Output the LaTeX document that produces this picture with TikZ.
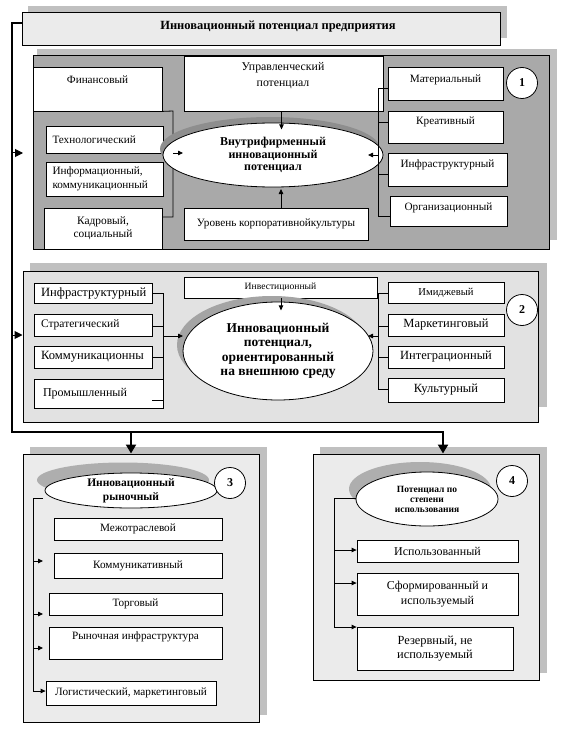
\documentclass[tikz,border=0pt]{standalone}
\usepackage{fontspec}
\setmainfont{Liberation Serif}
\usetikzlibrary{arrows.meta,shapes.geometric}
\definecolor{shd}{HTML}{C0C0C0}
\definecolor{lgt}{HTML}{EBEBEB}
\definecolor{lgtb}{HTML}{E2E2E2}
\definecolor{drk}{HTML}{A9A9A9}
\definecolor{eshdA}{HTML}{8E8E8E}
\definecolor{eshdB}{HTML}{A4A4A4}
\definecolor{eshdC}{HTML}{AEAEAE}
\newcommand\mybox[7][]{\node[box,minimum width={(#5)-(#3)},minimum height={(#6)-(#4)},#1] (#2) at ({((#3)+(#5))/2},{((#4)+(#6))/2}) {#7};}
\begin{document}
\begin{tikzpicture}[x=1pt,y=-1pt,
  ln/.style={line width=0.8pt},
  box/.style={draw,fill=white,line width=0.8pt,inner sep=0pt,align=center,font=\fontsize{11.2}{13.5}\selectfont},
  panel/.style={box,line width=1pt},
  txt/.style={inner sep=0pt,align=center,font=\fontsize{11.2}{13.5}\selectfont},
  big/.style={font=\fontsize{12.5}{14}\selectfont},
  four/.style={font=\fontsize{12}{14.5}\selectfont},
  arr/.style={line width=0.8pt,-{Triangle[length=5pt,width=4.5pt]}},
  bigarr/.style={line width=1pt,-{Triangle[length=8pt,width=8pt]}},
  thk/.style={line width=2.6pt},
  thkarr/.style={line width=2.6pt,-{Triangle[length=9pt,width=10pt]}},
  oval/.style={ellipse,draw,fill=white,line width=0.8pt,inner sep=0pt,align=center},
  num/.style={circle,draw,fill=white,line width=0.8pt,minimum size=31pt,inner sep=0pt,font=\bfseries\fontsize{12}{13}\selectfont}]
\useasboundingbox (0,0) rectangle (564,738);
\fill[white] (0,0) rectangle (564,738);
% ---------- top
\fill[shd] (28,6) rectangle (507,38);
\mybox[panel,fill=lgt]{top}{22}{13}{500}{46}{}
\node[txt,font=\bfseries\fontsize{12.5}{14}\selectfont] (topt) at (278,27) {Инновационный потенциал предприятия};
% ---------- section 1
\fill[shd] (37,49) rectangle (557,240);
\mybox[panel,fill=drk]{s1}{33}{56}{549}{249}{}
\mybox{fin}{33}{67}{162}{111}{}
\node[txt] (fint) at (97.5,80) {Финансовый};
\mybox{upr}{184}{56}{383}{111}{}
\node[txt,font=\fontsize{11.8}{16}\selectfont] (uprt) at (283,75.5) {Управленческий\\потенциал};
\draw[ln] (fin.south east) -- (173,111) -- (173,217) -- (162,217);
\mybox[align=left,text width=104pt]{tech}{46}{126}{163}{153}{Технологический}
\mybox[align=left,text width=104pt,font=\fontsize{11.2}{14}\selectfont]{info}{46}{162}{163}{196}{Информационный,\\коммуникационный}
\mybox[font=\fontsize{11.4}{13}\selectfont]{kad}{44}{208}{162}{249}{Кадровый,\\социальный}
\mybox{ur}{184}{208}{368}{240}{Уровень корпоративнойкультуры}
\fill[eshdA] (270,149) ellipse [x radius=110, y radius=32];
\node[oval,minimum width=220,minimum height=64,font=\bfseries\fontsize{12}{12.5}\selectfont] (e1) at (273,155) {Внутрифирменный\\инновационный\\потенциал};
\mybox{mat}{388}{67}{503}{100}{}
\node[txt] (matt) at (445.5,80) {Материальный};
\mybox{kre}{388}{111}{503}{143}{}
\node[txt] (kret) at (445.5,122) {Креативный};
\mybox{inf}{388}{153}{507}{186}{}
\node[txt] (inft) at (447.5,165) {Инфраструктурный};
\mybox{org}{390}{196}{507}{226}{}
\node[txt] (orgt) at (448.5,208) {Организационный};
\node[num] (n1) at (522,83) {1};
\coordinate (l1) at (173,153);
\coordinate (r1) at (378,155);
\draw[arr] (l1) -- ++(10,0);
\draw[arr] (r1) -- ++(-10,0);
\draw[arr] ([xshift=-2pt]upr.south) -- ++(0,18);
\draw[arr] (281,208) -- ++(0,-19);
\draw[ln] (mat.west |- 0,88) -- (378,88) -- (378,216) -- (org.west |- 0,216);
\draw[ln] (kre.west |- 0,122) -- (378,122);
\draw[ln] (inf.west |- 0,174) -- (378,174);
% ---------- section 2
\fill[shd] (30,263) rectangle (547,407);
\mybox[panel,fill=lgtb]{s2}{23}{271}{538}{422}{}
\mybox[font=\fontsize{9.6}{11}\selectfont]{inv}{184}{277}{377}{298}{Инвестиционный}
\mybox[align=left,text width=104pt,font=\fontsize{12.6}{14}\selectfont]{infl}{34}{283}{152}{303}{Инфраструктурный}
\mybox[align=left,text width=104pt,font=\fontsize{11.5}{14}\selectfont]{str}{34}{314}{152}{336}{Стратегический}
\mybox[align=left,text width=104pt,font=\fontsize{12.6}{14}\selectfont]{komm}{34}{346}{152}{368}{Коммуникационны}
\mybox[align=left,text width=111pt,font=\fontsize{12}{14}\selectfont]{prom}{34}{379}{163}{408}{Промышленный}
\fill[eshdB] (272,345) ellipse [x radius=95, y radius=49];
\node[oval,minimum width=190,minimum height=98,font=\bfseries\fontsize{13.5}{14.5}\selectfont] (e2) at (278,351) {Инновационный\\потенциал,\\ориентированный\\на внешнюю среду};
\mybox[font=\fontsize{10.6}{12}\selectfont]{img}{388}{282}{504}{303}{Имиджевый}
\mybox[big]{mark}{388}{314}{504}{336}{Маркетинговый}
\mybox[big]{integ}{388}{346}{504}{368}{Интеграционный}
\mybox[big]{kult}{388}{378}{504}{402}{Культурный}
\node[num] (n2) at (522,310) {2};
\draw[ln] (infl.east |- 0,293) -- (163,293) -- (163,400) -- (152,400);
\draw[ln] (str.east |- 0,326) -- (163,326);
\draw[ln] (komm.east |- 0,357) -- (163,357);
\draw[ln] (img.west |- 0,293) -- (378,293) -- (378,389) -- (kult.west |- 0,389);
\draw[ln] (mark.west |- 0,326) -- (378,326);
\draw[ln] (integ.west |- 0,357) -- (378,357);
\coordinate (l2) at (163,336);
\coordinate (r2) at (378,336);
\draw[arr] (l2) -- ++(20,0);
\draw[arr] (r2) -- ++(-10,0);
\draw[arr] ([xshift=0.5pt]inv.south) -- ++(0,12);
% ---------- section 3
\fill[shd] (30,447) rectangle (267,715);
\mybox[panel,fill=lgt]{s3}{23}{454}{259}{722}{}
\fill[eshdC] (123,480) ellipse [x radius=86, y radius=17.5];
\node[oval,minimum width=172,minimum height=35,font=\bfseries\fontsize{11.5}{14}\selectfont] (e3) at (131,490.5) {Инновационный\\рыночный};
\node[num] (n3) at (230,483) {3};
\mybox{mezh}{54}{518}{222}{540}{Межотраслевой}
\mybox{kmv}{54}{553}{222}{578}{Коммуникативный}
\mybox{torg}{49}{593}{222}{615}{Торговый}
\mybox{ryn}{49}{627}{222}{659}{}
\node[txt] (rynt) at (135.5,637) {Рыночная инфраструктура};
\mybox{log}{46}{681}{216}{705}{Логистический, маркетинговый}
\draw[ln] (43,498) -- (33,498) -- (33,691);
\draw[arr] (33,561) -- (43,561);
\draw[arr] (33,614) -- (43,614);
\draw[arr] (33,648) -- (43,648);
\draw[arr] (33,691) -- (log.west |- 0,691);
% ---------- section 4
\fill[shd] (320,447) rectangle (547,673);
\mybox[panel,fill=lgt]{s4}{313}{454}{539}{680}{}
\fill[eshdC] (420,489) ellipse [x radius=71, y radius=27];
\node[oval,minimum width=142,minimum height=54,font=\bfseries\fontsize{9.5}{10}\selectfont] (e4) at (427,499) {Потенциал по\\степени\\использования};
\node[num] (n4) at (512,481) {4};
\mybox[four]{isp}{357}{540}{518}{562}{Использованный}
\mybox[four]{sfo}{357}{573}{518}{615}{Сформированный и\\используемый}
\mybox[four,font=\fontsize{12.4}{14}\selectfont]{rez}{357}{627}{513}{670}{Резервный, не\\используемый}
\draw[ln] (356,498) -- (334,498) -- (334,627);
\draw[arr] (334,550) -- (isp.west |- 0,550);
\draw[arr] (334,583) -- (sfo.west |- 0,583);
\draw[arr] (334,627) -- (rez.west |- 0,627);
% ---------- main trunk
\coordinate (tl) at (12,23);
\coordinate (bl) at (12,432);
\coordinate (br) at (443,432);
\coordinate (b3) at (131,432);
\draw[thk] ([yshift=6.5pt]top.west) -- (tl) -- (bl) -- ([xshift=1.3pt]br);
\draw[thkarr] (b3) -- (s3.north -| b3);
\draw[thkarr] (br) -- (s4.north -| br);
\draw[bigarr] (12,153) -- (23,153);
\draw[bigarr] (12,335) -- (s2.west |- 0,335);
\end{tikzpicture}
\end{document}
